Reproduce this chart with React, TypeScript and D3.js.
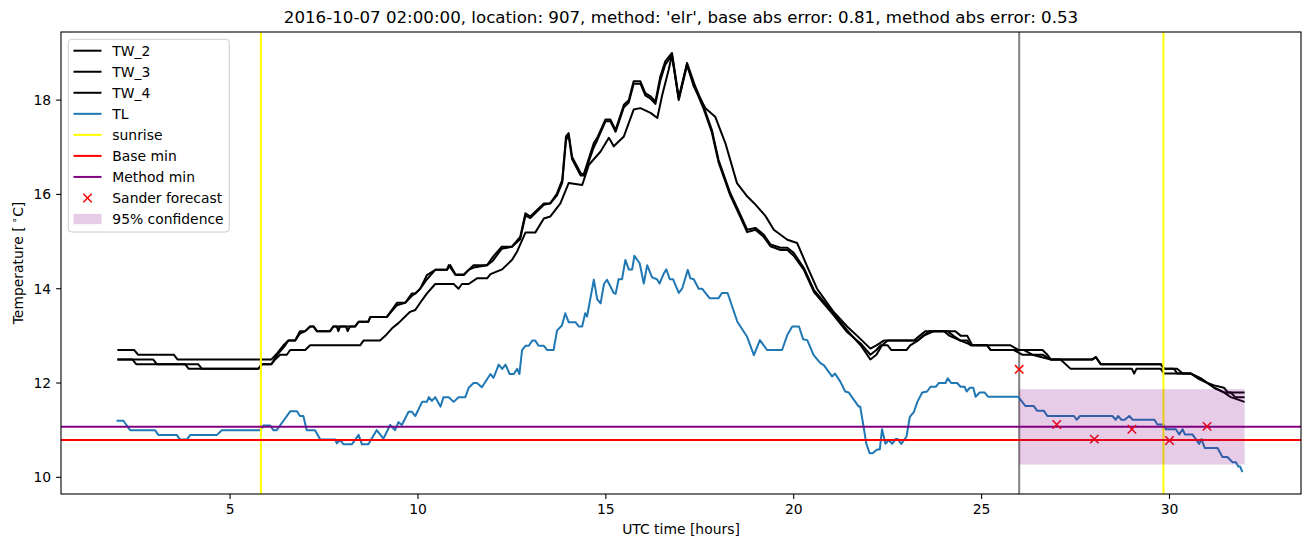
import React from "react";
import * as d3 from "d3";

type P = [number, number];

const titleText = "2016-10-07 02:00:00, location: 907, method: 'elr', base abs error: 0.81, method abs error: 0.53";
const xTicks = [5, 10, 15, 20, 25, 30];
const yTicks = [10, 12, 14, 16, 18];

const tw2: P[] = [[2.0,12.7],[2.45,12.7],[2.55,12.6],[3.5,12.6],[3.6,12.5],[6.1,12.5],[6.25,12.63],[6.42,12.8],[6.55,12.9],[6.73,12.9],[6.86,13.1],[7.0,13.1],[7.13,13.2],[7.22,13.2],[7.31,13.1],[7.66,13.1],[7.75,13.2],[7.84,13.2],[7.88,13.1],[7.93,13.2],[8.08,13.2],[8.13,13.1],[8.19,13.2],[8.33,13.2],[8.42,13.3],[8.68,13.3],[8.73,13.4],[9.17,13.4],[9.44,13.7],[9.66,13.7],[9.84,13.9],[9.93,13.9],[10.06,14.0],[10.24,14.29],[10.46,14.4],[10.77,14.4],[10.82,14.5],[11.0,14.29],[11.22,14.29],[11.35,14.4],[11.48,14.5],[11.84,14.5],[12.0,14.68],[12.23,14.89],[12.5,14.89],[12.72,15.1],[12.86,15.6],[12.99,15.53],[13.35,15.81],[13.52,15.81],[13.7,16.02],[13.84,16.31],[13.94,17.23],[14.01,17.3],[14.1,16.8],[14.33,16.45],[14.41,16.42],[14.68,17.09],[14.77,17.2],[14.99,17.59],[15.12,17.59],[15.26,17.37],[15.48,17.9],[15.61,18.0],[15.74,18.4],[15.92,18.4],[16.05,18.15],[16.19,18.08],[16.32,17.97],[16.45,18.5],[16.58,18.82],[16.76,19.0],[16.94,18.05],[17.16,18.79],[17.38,18.29],[17.6,17.87],[17.82,17.37],[18.0,16.73],[18.31,16.03],[18.58,15.57],[18.76,15.25],[18.98,15.29],[19.2,15.15],[19.38,14.94],[19.65,14.87],[19.83,14.87],[20.0,14.76],[20.27,14.44],[20.54,13.97],[21.06,13.48],[21.42,13.12],[21.78,12.8],[22.04,12.5],[22.2,12.6],[22.35,12.8],[22.5,12.9],[23.2,12.9],[23.35,13.0],[23.5,13.1],[24.0,13.1],[24.15,13.0],[24.44,12.9],[24.62,12.9],[24.7,12.8],[25.15,12.8],[25.24,12.7],[25.86,12.7],[26.08,12.6],[26.62,12.6],[26.84,12.5],[27.95,12.5],[28.04,12.55],[28.17,12.4],[29.77,12.4],[29.86,12.3],[30.21,12.3],[30.35,12.2],[30.57,12.2],[30.83,12.1],[31.01,12.0],[31.19,11.9],[31.45,11.8],[31.63,11.8],[31.75,11.7],[32.0,11.7]];

const tw3: P[] = [[2.0,12.5],[2.4,12.5],[2.5,12.4],[3.8,12.4],[3.9,12.3],[5.75,12.3],[5.85,12.4],[6.1,12.4],[6.25,12.6],[6.42,12.75],[6.55,12.9],[6.73,12.9],[6.86,13.05],[7.0,13.1],[7.13,13.2],[7.22,13.2],[7.31,13.1],[7.66,13.1],[7.75,13.2],[8.33,13.2],[8.42,13.3],[8.68,13.3],[8.73,13.4],[9.17,13.4],[9.44,13.65],[9.66,13.7],[9.84,13.85],[9.93,13.9],[10.06,14.0],[10.24,14.2],[10.46,14.4],[10.77,14.4],[10.86,14.5],[11.0,14.3],[11.22,14.3],[11.35,14.4],[11.48,14.45],[11.84,14.5],[12.0,14.6],[12.23,14.85],[12.5,14.89],[12.72,15.05],[12.86,15.55],[12.99,15.5],[13.35,15.78],[13.52,15.81],[13.7,15.98],[13.84,16.25],[13.94,17.15],[14.01,17.25],[14.1,16.75],[14.33,16.4],[14.41,16.4],[14.68,17.0],[14.77,17.15],[14.99,17.55],[15.12,17.55],[15.26,17.33],[15.48,17.85],[15.61,17.95],[15.74,18.35],[15.92,18.35],[16.05,18.1],[16.19,18.03],[16.32,17.92],[16.45,18.42],[16.58,18.75],[16.76,18.95],[16.94,18.03],[17.16,18.75],[17.38,18.24],[17.6,17.82],[17.82,17.32],[18.0,16.68],[18.31,15.98],[18.58,15.52],[18.76,15.2],[18.98,15.25],[19.2,15.1],[19.38,14.9],[19.65,14.82],[19.83,14.82],[20.0,14.7],[20.27,14.4],[20.54,13.93],[21.06,13.44],[21.42,13.08],[21.78,12.84],[22.04,12.6],[22.2,12.7],[22.31,12.8],[22.5,12.8],[22.6,12.7],[23.0,12.7],[23.1,12.8],[23.3,12.9],[23.45,13.0],[23.6,13.1],[24.1,13.1],[24.25,13.0],[24.44,12.9],[24.75,12.8],[25.15,12.8],[25.24,12.7],[26.13,12.7],[26.35,12.6],[26.84,12.5],[27.1,12.5],[27.37,12.3],[29.0,12.3],[29.06,12.2],[29.12,12.3],[29.77,12.3],[29.86,12.2],[30.57,12.2],[30.83,12.1],[31.01,12.0],[31.19,11.9],[31.45,11.8],[31.63,11.7],[32.0,11.6]];

const tw4: P[] = [[2.0,12.5],[2.95,12.5],[3.05,12.4],[4.15,12.4],[4.25,12.3],[5.75,12.3],[5.85,12.4],[6.1,12.4],[6.2,12.5],[6.33,12.6],[6.51,12.6],[6.6,12.7],[7.0,12.7],[7.13,12.8],[8.46,12.8],[8.55,12.9],[8.99,12.9],[9.13,13.0],[9.31,13.16],[9.48,13.27],[9.66,13.41],[9.79,13.51],[9.93,13.55],[10.11,13.76],[10.24,13.9],[10.46,14.1],[10.95,14.1],[11.08,14.0],[11.17,14.1],[11.35,14.1],[11.57,14.22],[11.84,14.22],[11.93,14.31],[12.24,14.41],[12.5,14.61],[12.64,14.79],[12.86,15.19],[13.12,15.19],[13.35,15.49],[13.52,15.53],[13.79,15.81],[14.01,16.24],[14.37,16.2],[14.55,16.63],[14.86,16.91],[15.08,17.2],[15.21,17.02],[15.48,17.23],[15.74,17.8],[15.92,17.83],[16.19,17.73],[16.37,17.62],[16.5,18.11],[16.67,18.64],[16.76,18.95],[16.94,18.0],[17.16,18.75],[17.34,18.29],[17.65,17.83],[17.91,17.65],[18.18,17.09],[18.49,16.24],[18.76,15.96],[18.94,15.82],[19.25,15.54],[19.47,15.25],[19.83,15.04],[20.09,14.97],[20.36,14.47],[20.62,14.0],[21.07,13.5],[21.42,13.2],[21.69,13.0],[22.04,12.73],[22.2,12.8],[22.4,12.9],[23.3,12.9],[23.45,13.0],[23.73,13.1],[24.3,13.1],[24.45,13.0],[24.62,13.0],[24.75,12.8],[25.77,12.8],[25.99,12.7],[26.62,12.7],[26.75,12.6],[26.84,12.5],[27.95,12.5],[28.04,12.55],[28.17,12.4],[29.77,12.4],[29.86,12.3],[30.12,12.3],[30.21,12.2],[30.57,12.2],[30.75,12.1],[31.01,12.0],[31.19,11.95],[31.45,11.9],[31.55,11.8],[32.0,11.8]];

const tl: P[] = [[1.98,11.2],[2.16,11.2],[2.34,11.0],[3.0,11.0],[3.09,10.9],[3.58,10.9],[3.67,10.8],[3.85,10.8],[3.94,10.9],[4.65,10.9],[4.78,11.0],[5.8,11.0],[5.89,11.1],[6.07,11.1],[6.15,11.0],[6.24,11.0],[6.42,11.2],[6.6,11.4],[6.78,11.4],[6.86,11.3],[6.95,11.3],[7.04,11.0],[7.26,11.0],[7.4,10.8],[7.8,10.8],[7.84,10.72],[7.93,10.79],[8.02,10.7],[8.24,10.7],[8.42,10.9],[8.51,10.7],[8.68,10.7],[8.9,11.0],[9.08,10.82],[9.26,11.11],[9.39,11.0],[9.48,11.17],[9.57,11.11],[9.75,11.39],[9.84,11.39],[9.93,11.3],[10.11,11.6],[10.24,11.6],[10.29,11.7],[10.37,11.62],[10.46,11.7],[10.6,11.5],[10.68,11.7],[10.82,11.7],[10.95,11.6],[11.08,11.7],[11.26,11.7],[11.35,11.9],[11.48,12.0],[11.57,12.0],[11.7,11.91],[11.93,12.19],[12.01,12.11],[12.15,12.39],[12.24,12.3],[12.33,12.39],[12.44,12.19],[12.55,12.19],[12.64,12.3],[12.7,12.19],[12.77,12.7],[12.86,12.79],[12.95,12.79],[13.04,12.9],[13.12,12.9],[13.21,12.79],[13.35,12.79],[13.44,12.7],[13.61,12.7],[13.7,13.11],[13.83,13.22],[13.92,13.48],[14.01,13.29],[14.19,13.29],[14.28,13.2],[14.37,13.2],[14.45,13.48],[14.5,13.41],[14.68,14.19],[14.77,13.78],[14.86,13.69],[14.95,14.1],[15.03,14.19],[15.21,13.91],[15.26,13.89],[15.34,14.2],[15.43,14.2],[15.52,14.61],[15.61,14.41],[15.7,14.41],[15.76,14.7],[15.9,14.54],[16.01,14.11],[16.1,14.5],[16.23,14.24],[16.36,14.2],[16.43,14.11],[16.54,14.32],[16.61,14.41],[16.7,14.2],[16.79,14.2],[16.94,13.91],[17.03,14.0],[17.18,14.4],[17.25,14.22],[17.34,14.2],[17.47,14.0],[17.56,14.0],[17.76,13.8],[18.0,13.8],[18.09,13.91],[18.24,13.91],[18.5,13.3],[18.76,12.98],[18.94,12.59],[19.1,12.91],[19.29,12.7],[19.69,12.7],[19.83,13.02],[19.96,13.2],[20.14,13.2],[20.25,12.93],[20.36,12.91],[20.53,12.59],[20.71,12.42],[20.8,12.38],[21.02,12.14],[21.1,12.2],[21.24,12.03],[21.37,11.82],[21.46,11.8],[21.73,11.5],[21.77,11.5],[21.86,11.07],[21.93,10.72],[22.02,10.51],[22.1,10.51],[22.22,10.59],[22.29,10.59],[22.35,11.02],[22.44,10.71],[22.53,10.79],[22.62,10.71],[22.71,10.81],[22.77,10.81],[22.86,10.71],[23.0,10.86],[23.09,11.28],[23.2,11.39],[23.29,11.6],[23.42,11.8],[23.55,11.82],[23.64,11.92],[23.78,11.92],[23.86,12.0],[24.04,12.0],[24.1,12.1],[24.19,12.0],[24.35,12.0],[24.44,11.92],[24.55,11.92],[24.6,11.82],[24.69,11.9],[24.78,11.9],[24.84,11.71],[24.95,11.8],[25.08,11.8],[25.17,11.71],[25.97,11.71],[26.08,11.6],[26.17,11.51],[26.39,11.51],[26.48,11.41],[26.66,11.41],[26.75,11.3],[27.46,11.3],[27.53,11.22],[27.62,11.3],[28.48,11.3],[28.57,11.22],[28.63,11.3],[28.72,11.22],[28.81,11.22],[28.93,11.3],[29.02,11.22],[29.6,11.22],[29.68,11.12],[29.84,11.12],[29.9,11.02],[30.17,11.02],[30.26,10.91],[30.35,11.02],[30.41,10.91],[30.61,10.91],[30.79,10.71],[30.85,10.81],[30.94,10.62],[31.28,10.62],[31.41,10.43],[31.54,10.43],[31.68,10.32],[31.77,10.32],[31.83,10.23],[31.88,10.23],[31.94,10.11]];

const sunrise = [5.82, 29.84];
const forecastStart = 26;
const baseMin = 10.79;
const methodMin = 11.07;
const sanderHours = [26, 27, 28, 29, 30, 31];
const sanderValues = [12.29, 11.12, 10.81, 11.02, 10.78, 11.08];
const confidence = { x0: 26, x1: 32, lo: 10.27, hi: 11.87 };

const legendLabels = ["TW_2", "TW_3", "TW_4", "TL", "sunrise", "Base min", "Method min", "Sander forecast", "95% confidence"];

const W = 1311, H = 547;
const L = 61, R = 1301, T = 32, B = 494;
const FONT = "'DejaVu Sans', sans-serif";

export default function App() {
  const x = d3.scaleLinear().domain([0.5, 33.5]).range([L, R]);
  const y = d3.scaleLinear().domain([9.646, 19.445]).range([B, T]);
  const line = d3.line<P>().x(d => x(d[0])).y(d => y(d[1]));
  const blue = "#1f77b4";
  const lw = 2;

  const legendRows = legendLabels.map((lab, i) => ({ lab, cy: 50.7 + i * 21.04 }));

  const cross = (cx: number, cy: number, k: string) => (
    <g key={k} stroke="red" strokeWidth={1.5}>
      <line x1={cx - 4.2} y1={cy - 4.2} x2={cx + 4.2} y2={cy + 4.2} />
      <line x1={cx - 4.2} y1={cy + 4.2} x2={cx + 4.2} y2={cy - 4.2} />
    </g>
  );

  return (
    <svg width={W} height={H} style={{ position: "absolute", left: 0, top: 0, background: "white" }} fontFamily={FONT}>
      <rect x={0} y={0} width={W} height={H} fill="white" />
      <defs>
        <clipPath id="plotclip"><rect x={L} y={T} width={R - L} height={B - T} /></clipPath>
      </defs>
      <g clipPath="url(#plotclip)">
        <line x1={x(forecastStart)} x2={x(forecastStart)} y1={T} y2={B} stroke="gray" strokeWidth={lw} />
        {[tw2, tw3, tw4].map((s, i) => (
          <path key={i} d={line(s) || ""} fill="none" stroke="black" strokeWidth={lw} strokeLinejoin="round" />
        ))}
        <path d={line(tl) || ""} fill="none" stroke={blue} strokeWidth={lw} strokeLinejoin="round" />
        {sunrise.map((s, i) => (
          <line key={i} x1={x(s)} x2={x(s)} y1={T} y2={B} stroke="yellow" strokeWidth={lw} />
        ))}
        <line x1={L} x2={R} y1={y(baseMin)} y2={y(baseMin)} stroke="red" strokeWidth={lw} />
        <line x1={L} x2={R} y1={y(methodMin)} y2={y(methodMin)} stroke="purple" strokeWidth={lw} />
        {sanderHours.map((h, i) => cross(x(h), y(sanderValues[i]), "s" + i))}
        <rect x={x(confidence.x0)} y={y(confidence.hi)} width={x(confidence.x1) - x(confidence.x0)}
          height={y(confidence.lo) - y(confidence.hi)} fill="purple" fillOpacity={0.2} />
      </g>
      <rect x={L} y={T} width={R - L} height={B - T} fill="none" stroke="black" strokeWidth={1.1} />
      {xTicks.map(t => (
        <g key={t}>
          <line x1={x(t)} x2={x(t)} y1={B} y2={B + 4.9} stroke="black" strokeWidth={1.1} />
          <text x={x(t)} y={B + 20} textAnchor="middle" fontSize={13.9} fill="black">{t}</text>
        </g>
      ))}
      {yTicks.map(t => (
        <g key={t}>
          <line x1={L - 4.9} x2={L} y1={y(t)} y2={y(t)} stroke="black" strokeWidth={1.1} />
          <text x={L - 9.8} y={y(t) + 5} textAnchor="end" fontSize={13.9} fill="black">{t}</text>
        </g>
      ))}
      <text x={(L + R) / 2} y={23} textAnchor="middle" fontSize={16.67} fill="black">{titleText}</text>
      <text x={(L + R) / 2} y={534} textAnchor="middle" fontSize={13.9} fill="black">UTC time [hours]</text>
      <text transform={`translate(23, ${(T + B) / 2}) rotate(-90)`} textAnchor="middle" fontSize={13.9} fill="black">
        Temperature [<tspan dx={3} fontSize={10.5} dy={-5}>∘</tspan><tspan dy={5}>C]</tspan>
      </text>
      <g>
        <rect x={68.3} y={39.3} width={161} height={192.7} rx={3.5} fill="white" fillOpacity={0.8} stroke="#cccccc" strokeWidth={1} />
        {legendRows.map((r, i) => {
          const hx1 = 73.5, hx2 = 101.5;
          let handle: React.ReactNode = null;
          if (i < 3) handle = <line x1={hx1} x2={hx2} y1={r.cy} y2={r.cy} stroke="black" strokeWidth={lw} />;
          else if (i === 3) handle = <line x1={hx1} x2={hx2} y1={r.cy} y2={r.cy} stroke={blue} strokeWidth={lw} />;
          else if (i === 4) handle = <line x1={hx1} x2={hx2} y1={r.cy} y2={r.cy} stroke="yellow" strokeWidth={lw} />;
          else if (i === 5) handle = <line x1={hx1} x2={hx2} y1={r.cy} y2={r.cy} stroke="red" strokeWidth={lw} />;
          else if (i === 6) handle = <line x1={hx1} x2={hx2} y1={r.cy} y2={r.cy} stroke="purple" strokeWidth={lw} />;
          else if (i === 7) handle = cross((hx1 + hx2) / 2, r.cy, "lx");
          else handle = <rect x={hx1} y={r.cy - 5.2} width={hx2 - hx1} height={10.4} fill="purple" fillOpacity={0.2} />;
          return (
            <g key={r.lab}>
              {handle}
              <text x={112.3} y={r.cy + 5.2} fontSize={13.9} fill="black">{r.lab}</text>
            </g>
          );
        })}
      </g>
    </svg>
  );
}
